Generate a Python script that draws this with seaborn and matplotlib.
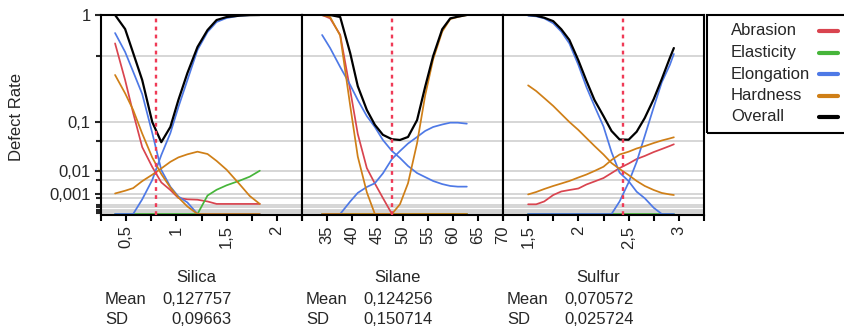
import numpy as np
import pandas as pd
import matplotlib
matplotlib.use("Agg")
import matplotlib.pyplot as plt
import seaborn as sns
from matplotlib.ticker import FixedLocator, FixedFormatter, NullFormatter
from matplotlib.lines import Line2D
from matplotlib.patches import Rectangle

# ---------------- data ----------------
responses = ["Abrasion", "Elasticity", "Elongation", "Hardness", "Overall"]
colors = ["#d9444f", "#46b53a", "#4e79e6", "#cf7f17", "#000000"]

factors = ["Silica", "Silane", "Sulfur"]
means = ["0,127757", "0,124256", "0,070572"]
sds = ["0,09663", "0,150714", "0,025724"]
current = [0.8, 47.9, 2.44]

silica_x = [0.39, 0.49, 0.57, 0.66, 0.76, 0.85, 0.94, 1.02, 1.11, 1.21, 1.31, 1.40, 1.50, 1.63, 1.73, 1.83]
silica_abrasion = [0.63, 0.305, 0.131, 0.038, 0.0132, 0.004, 0.00175, 0.00052, 0.0004, 0.00037, 0.00025, 0.00013, 0.00013, 0.00013, 0.00013, 0.00013]
silica_elasticity = [0, 0, 0, 0, 0, 0, 0, 0, 0, 0, 0.0008, 0.0018, 0.003, 0.0047, 0.0066, 0.0103]
silica_elong_lo = [0.752, 0.54, 0.366, 0.219, 0.0674, 0.0108, 0.00258, 0.00068, 0.000195, 0, 0, 0, 0, 0, 0, 0]
silica_elong_hi = [0, 0, 0, 0.0004, 0.005, 0.026, 0.067, 0.155, 0.305, 0.56, 0.765, 0.898, 0.955, 0.99, 0.998, 1.0]
silica_hard_lo = [0.341, 0.223, 0.143, 0.066, 0.0229, 0.0081, 0.00236, 0.00057, 0.000053, 0, 0, 0, 0, 0, 0, 0]
silica_hard_hi = [0.0011, 0.0016, 0.0022, 0.0045, 0.0077, 0.012, 0.018, 0.023, 0.027, 0.0307, 0.0274, 0.019, 0.011, 0.0033, 0.00074, 0.00013]
silica_overall = [1.0, 0.803, 0.53, 0.305, 0.0988, 0.047, 0.0836, 0.188, 0.356, 0.591, 0.79, 0.926, 0.97, 0.99, 0.998, 1.0]

silane_x = [34, 35.6, 37.6, 39.6, 41.1, 42.9, 44.5, 46.1, 47.9, 49.5, 51.1, 52.9, 54.5, 56.1, 57.9, 59.5, 61, 62.8]
silane_abrasion = [1.0, 0.95, 0.73, 0.24, 0.065, 0.0123, 0.0036, 0.00052, 0, 0, 0, 0, 0, 0, 0, 0, 0, 0]
silane_elasticity = [0, 0, 0, 0, 0, 0, 0, 0, 0, 0, 0, 0, 0, 0, 0, 0, 0, 0]
silane_elong_lo = [0.728, 0.58, 0.403, 0.272, 0.188, 0.119, 0.0836, 0.0514, 0.0317, 0.0223, 0.014, 0.0087, 0.0064, 0.00456, 0.0034, 0.0028, 0.0026, 0.0026]
silane_elong_hi = [0, 0, 0, 0.00025, 0.0012, 0.0025, 0.0037, 0.0085, 0.0211, 0.0317, 0.0444, 0.058, 0.0726, 0.0836, 0.091, 0.0966, 0.0966, 0.0935]
silane_hard_lo = [1.0, 0.97, 0.72, 0.16, 0.024, 0.0013, 0, 0, 0, 0, 0, 0, 0, 0, 0, 0, 0, 0]
silane_hard_hi = [0, 0, 0, 0, 0, 0, 0, 0, 0, 0.00012, 0.0037, 0.045, 0.21, 0.47, 0.77, 0.94, 0.97, 1.0]
silane_overall = [1.0, 1.0, 0.97, 0.527, 0.265, 0.143, 0.09, 0.063, 0.053, 0.0515, 0.058, 0.105, 0.26, 0.5, 0.8, 0.95, 0.975, 1.0]

sulfur_x = [1.5, 1.58, 1.66, 1.75, 1.83, 1.91, 2.0, 2.08, 2.16, 2.25, 2.33, 2.41, 2.5, 2.58, 2.66, 2.75, 2.83, 2.91, 2.95]
sulfur_abrasion = [0.000116, 0.000116, 0.00025, 0.00087, 0.00145, 0.00175, 0.0021, 0.00326, 0.00436, 0.0059, 0.0087, 0.0123, 0.0163, 0.0211, 0.0248, 0.0302, 0.0348, 0.04, 0.043]
sulfur_elasticity = [0, 0, 0, 0, 0, 0, 0, 0, 0, 0, 0, 0, 0, 0, 0, 0, 0, 0, 0]
sulfur_elong_lo = [0.99, 0.98, 0.95, 0.88, 0.77, 0.63, 0.42, 0.26, 0.16, 0.085, 0.03, 0.009, 0.0045, 0.0014, 0.0005, 0.00003, 0, 0, 0]
sulfur_elong_hi = [0, 0, 0, 0, 0, 0, 0, 0, 0, 0, 0, 0.00025, 0.004, 0.018, 0.06, 0.155, 0.29, 0.42, 0.52]
sulfur_hard_lo = [0.27, 0.236, 0.198, 0.16, 0.127, 0.099, 0.0752, 0.0557, 0.04, 0.0267, 0.0168, 0.0116, 0.0075, 0.00456, 0.0028, 0.00175, 0.00118, 0.00095, 0.00087]
sulfur_hard_hi = [0.00095, 0.00135, 0.00198, 0.0028, 0.0036, 0.00456, 0.00617, 0.0078, 0.0101, 0.0134, 0.02, 0.0267, 0.0307, 0.0357, 0.0397, 0.0454, 0.0504, 0.0548, 0.0573]
sulfur_overall = [1.0, 0.99, 0.96, 0.91, 0.80, 0.67, 0.46, 0.30, 0.188, 0.119, 0.0726, 0.0525, 0.052, 0.0707, 0.112, 0.193, 0.312, 0.482, 0.58]

x_limits = [(0.25, 2.25), (30, 70), (1.25, 3.25)]
x_major = [[0.5, 1, 1.5, 2], [35, 40, 45, 50, 55, 60, 65, 70], [1.5, 2, 2.5, 3]]
x_major_labels = [["0,5", "1", "1,5", "2"], ["35", "40", "45", "50", "55", "60", "65", "70"], ["1,5", "2", "2,5", "3"]]
x_minor = [[0.25, 0.75, 1.25, 1.75, 2.25], [30], [1.25, 1.75, 2.25, 2.75, 3.25]]

y_major = [0.001, 0.01, 0.1, 1]
y_major_labels = ["0,001", "0,01", "0,1", "1"]
y_minor = [0.5, 0.05, 0.005, 0.0005, 0.0001, 0.00005, 0.00001, 0.000005, 0.000001, 0.0000005, 0.0000001]

# -------------- long table --------------
panel_series = {
    "Silica": (silica_x, [("Abrasion", "a", silica_abrasion), ("Elasticity", "e", silica_elasticity),
                          ("Elongation", "l1", silica_elong_lo), ("Elongation", "l2", silica_elong_hi),
                          ("Hardness", "h1", silica_hard_lo), ("Hardness", "h2", silica_hard_hi),
                          ("Overall", "o", silica_overall)]),
    "Silane": (silane_x, [("Abrasion", "a", silane_abrasion), ("Elasticity", "e", silane_elasticity),
                          ("Elongation", "l1", silane_elong_lo), ("Elongation", "l2", silane_elong_hi),
                          ("Hardness", "h1", silane_hard_lo), ("Hardness", "h2", silane_hard_hi),
                          ("Overall", "o", silane_overall)]),
    "Sulfur": (sulfur_x, [("Abrasion", "a", sulfur_abrasion), ("Elasticity", "e", sulfur_elasticity),
                          ("Elongation", "l1", sulfur_elong_lo), ("Elongation", "l2", sulfur_elong_hi),
                          ("Hardness", "h1", sulfur_hard_lo), ("Hardness", "h2", sulfur_hard_hi),
                          ("Overall", "o", sulfur_overall)]),
}
rows = []
for f, (xs, series) in panel_series.items():
    for resp, cid, vals in series:
        for xv, yv in zip(xs, vals):
            rows.append({"factor": f, "response": resp, "curve": cid, "x": xv, "rate": yv})
df = pd.DataFrame(rows)

palette = dict(zip(responses, colors))

# -------------- figure --------------
sns.set_style("white")
plt.rcParams["font.family"] = ["Liberation Sans", "DejaVu Sans"]

W, H = 844, 331
fig = plt.figure(figsize=(W / 100, H / 100), dpi=100)

def fx(px):
    return px / W

def fy(py):
    return 1 - py / H

lefts = [101, 302, 503]
pw = 201
top, bot = 15, 215
ybot = -(1.0 / 199) ** 3

for i, f in enumerate(factors):
    ax = fig.add_axes([fx(lefts[i]), fy(bot), pw / W, (bot - top) / H])
    sub = df[df["factor"] == f]
    parts = sub[sub["response"] != "Overall"]
    sns.lineplot(data=parts, x="x", y="rate", hue="response", units="curve", estimator=None,
                 hue_order=responses[:4], palette=palette, sort=False, legend=False,
                 lw=1.25, ax=ax)
    ov = sub[sub["response"] == "Overall"]
    sns.lineplot(data=ov, x="x", y="rate", color="black", estimator=None, sort=False,
                 legend=False, lw=1.6, ax=ax)
    ax.set_yscale("function", functions=(np.cbrt, lambda v: np.asarray(v) ** 3))
    ax.set_ylim(ybot, 1)
    ax.set_xlim(*x_limits[i])
    ax.axvline(current[i], color="#ef3a56", lw=1.7, ls=(0, (1.6, 1.8)), zorder=5)

    ax.yaxis.set_major_locator(FixedLocator(y_major))
    ax.yaxis.set_minor_locator(FixedLocator(y_minor))
    ax.yaxis.set_minor_formatter(NullFormatter())
    ax.grid(True, axis="y", which="both", color="#d3d3d3", lw=1.3)
    ax.set_axisbelow(True)

    ax.xaxis.set_major_locator(FixedLocator(x_major[i]))
    ax.xaxis.set_major_formatter(FixedFormatter(x_major_labels[i]))
    ax.xaxis.set_minor_locator(FixedLocator(x_minor[i]))
    ax.tick_params(axis="x", which="both", direction="out", length=4.5, width=1.5,
                   color="black", bottom=True, labelsize=12, labelrotation=90, pad=3)
    if i == 0:
        ax.yaxis.set_major_formatter(FixedFormatter(y_major_labels))
        ax.tick_params(axis="y", which="major", direction="out", length=4.5, width=1.5,
                       left=True, labelsize=12, pad=3)
        ax.tick_params(axis="y", which="minor", direction="out", length=3.5, width=1.5, left=True)
    else:
        ax.tick_params(axis="y", which="both", left=False, labelleft=False)
    ax.set_xlabel("")
    ax.set_ylabel("")
    for s in ax.spines.values():
        s.set_visible(True)
        s.set_color("black")
        s.set_linewidth(1.5)

    # factor summary below
    cx = lefts[i] + 95
    fig.text(fx(cx), fy(278), f, ha="center", va="center", fontsize=12)
    fig.text(fx(lefts[i] + 4), fy(299), "Mean", ha="left", va="center", fontsize=12)
    fig.text(fx(lefts[i] + 131), fy(299), means[i], ha="right", va="center", fontsize=12)
    fig.text(fx(lefts[i] + 4), fy(320), "SD", ha="left", va="center", fontsize=12)
    fig.text(fx(lefts[i] + 131), fy(320), sds[i], ha="right", va="center", fontsize=12)

fig.text(fx(17), fy(117), "Defect Rate", rotation=90, ha="center", va="center", fontsize=12)

# legend box
fig.patches.append(Rectangle((fx(707), fy(133)), (850 - 707) / W, (133 - 15) / H,
                             transform=fig.transFigure, fill=False, edgecolor="black",
                             lw=1.5, clip_on=False))
leg_y = [30.7, 52.7, 74, 96, 116.7]
for name, col, yy in zip(responses, colors, leg_y):
    fig.text(fx(731), fy(yy), name, ha="left", va="center", fontsize=12)
    fig.lines.append(Line2D([fx(819), fx(838)], [fy(yy), fy(yy)], transform=fig.transFigure,
                            color=col, lw=3))

fig.savefig("out.png", dpi=100)
